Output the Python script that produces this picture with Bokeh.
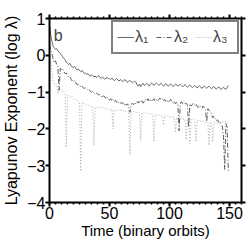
from bokeh.plotting import figure
from bokeh.models import (LinearAxis, SingleIntervalTicker, FixedTicker, Legend,
                          LegendItem, Label, Range1d, CustomJSTickFormatter)
from bokeh.embed import file_html
from bokeh.resources import INLINE

# ---------------- data ----------------
time = list(range(0, 150))

lambda1 = [
    0.85, 0.55, 0.38, 0.25, 0.20, 0.16, 0.18, 0.12, 0.08, 0.05,
    0.00, -0.04, -0.09, -0.12, -0.18, -0.22, -0.25, -0.22, -0.28, -0.32,
    -0.33, -0.30, -0.36, -0.40, -0.37, -0.42, -0.45, -0.41, -0.46, -0.49,
    -0.48, -0.52, -0.50, -0.54, -0.57, -0.53, -0.55, -0.59, -0.56, -0.60,
    -0.58, -0.55, -0.60, -0.63, -0.59, -0.61, -0.65, -0.62, -0.60, -0.64,
    -0.63, -0.66, -0.62, -0.65, -0.69, -0.66, -0.63, -0.67, -0.70, -0.66,
    -0.68, -0.72, -0.68, -0.66, -0.70, -0.74, -0.70, -0.68, -0.72, -0.75,
    -0.72, -0.70, -0.74, -0.80, -0.84, -0.78, -0.85, -0.80, -0.76, -0.82,
    -0.80, -0.76, -0.79, -0.84, -0.79, -0.75, -0.78, -0.82, -0.78, -0.75,
    -0.78, -0.82, -0.79, -0.76, -0.80, -0.84, -0.80, -0.77, -0.81, -0.84,
    -0.80, -0.78, -0.82, -0.85, -0.81, -0.78, -0.80, -0.84, -0.81, -0.79,
    -0.82, -0.86, -0.82, -0.80, -0.83, -0.87, -0.84, -0.81, -0.84, -0.88,
    -0.85, -0.82, -0.86, -0.89, -0.85, -0.83, -0.86, -0.90, -0.86, -0.84,
    -0.87, -0.90, -0.86, -0.84, -0.88, -0.91, -0.87, -0.85, -0.89, -0.92,
    -0.88, -0.86, -0.90, -0.93, -0.89, -0.87, -0.91, -0.92, -0.88, -0.82,
]

lambda2 = [
    0.30, 0.15, 0.05, -0.10, -0.20, -0.15, -0.25, -0.30, -0.95, -0.35,
    -0.40, -0.38, -0.45, -0.50, -0.48, -0.55, -0.60, -0.58, -0.65, -0.70,
    -0.72, -0.68, -0.75, -0.80, -0.78, -0.82, -0.86, -0.83, -0.88, -0.90,
    -0.88, -0.92, -0.95, -0.93, -0.98, -1.00, -0.97, -1.02, -1.05, -1.03,
    -1.05, -1.08, -1.06, -1.10, -1.15, -1.10, -1.12, -1.18, -1.14, -1.20,
    -1.22, -1.18, -1.24, -1.20, -1.26, -1.22, -1.28, -1.25, -1.30, -1.27,
    -1.32, -1.28, -1.35, -1.30, -1.36, -1.32, -1.38, -1.55, -1.35, -1.30,
    -1.34, -1.28, -1.32, -1.26, -1.30, -1.24, -1.28, -1.22, -1.30, -1.26,
    -1.20, -1.25, -1.18, -1.24, -1.20, -1.26, -1.22, -1.18, -1.24, -1.20,
    -1.25, -1.20, -1.16, -1.22, -1.18, -1.24, -1.20, -1.26, -1.22, -1.28,
    -1.24, -1.20, -1.26, -1.30, -1.25, -1.32, -1.28, -1.35, -2.05, -1.30,
    -1.26, -1.32, -1.28, -1.34, -1.30, -1.36, -1.95, -1.32, -1.38, -1.34,
    -1.30, -1.36, -1.32, -1.38, -1.42, -1.36, -1.40, -1.44, -1.38, -1.42,
    -1.48, -1.80, -1.45, -1.50, -1.55, -1.60, -1.70, -1.65, -1.72, -1.78,
    -1.75, -1.82, -1.80, -1.88, -1.92, -2.20, -3.10, -1.85, -1.95, -3.15,
]

lambda3 = [
    0.05, -0.10, -0.45, -0.70, -0.78, -0.82, -0.80, -1.05, -0.88, -0.92,
    -0.95, -1.00, -0.98, -1.05, -2.50, -1.08, -1.10, -1.12, -1.15, -1.12,
    -1.18, -1.20, -1.22, -1.20, -1.25, -1.28, -3.15, -1.30, -1.28, -1.32,
    -1.35, -1.33, -1.36, -1.35, -1.38, -1.37, -1.39, -2.45, -1.40, -1.42,
    -1.40, -1.42, -1.44, -1.41, -1.45, -1.43, -1.46, -1.44, -1.45, -1.47,
    -1.46, -1.48, -1.46, -2.00, -1.48, -1.50, -1.47, -1.49, -1.51, -1.49,
    -1.50, -1.52, -1.50, -1.53, -1.51, -1.54, -1.52, -2.70, -1.53, -1.55,
    -1.53, -1.55, -1.54, -1.56, -1.55, -1.57, -2.30, -1.56, -1.58, -1.57,
    -1.58, -1.57, -1.59, -1.58, -1.60, -1.59, -1.61, -2.35, -1.60, -1.62,
    -1.61, -1.63, -1.62, -1.64, -1.63, -1.90, -1.64, -1.66, -1.65, -1.67,
    -1.66, -1.68, -1.67, -1.69, -1.68, -2.10, -1.69, -1.71, -1.70, -1.72,
    -1.71, -1.73, -1.72, -1.74, -2.30, -1.73, -1.75, -2.40, -1.74, -1.76,
    -1.75, -1.77, -2.35, -1.76, -1.78, -1.77, -1.79, -1.78, -1.80, -1.79,
    -1.81, -1.80, -1.82, -2.45, -1.81, -1.83, -2.35, -1.82, -1.84, -1.83,
    -1.85, -1.84, -1.83, -1.82, -1.81, -1.80, -1.79, -1.80, -1.81, -1.80,
]

x_ticks_interval = 50
y_ticks = [-4, -3, -2, -1, 0, 1]
y_tick_labels = ["\u22124", "\u22123", "\u22122", "\u22121", "0", "1"]
legend_labels = ["\u03bb\u2081", "\u03bb\u2082", "\u03bb\u2083"]
panel_letter = "b"
x_title = "Time (binary orbits)"
y_title = "Lyapunov Exponent (log \u03bb)"

FONT = "Liberation Sans"

p = figure(width=248, height=248,
           x_range=Range1d(0, 160), y_range=Range1d(-4, 1),
           output_backend="svg", toolbar_location=None,
           min_border_left=45, min_border_right=7,
           min_border_top=18, min_border_bottom=46,
           x_axis_label=x_title, y_axis_label=y_title)
p.xgrid.visible = False
p.ygrid.visible = False
p.outline_line_color = None
p.background_fill_color = "white"
p.border_fill_color = "white"

r3 = p.line(time, lambda3, line_color="#a8a8a8", line_width=1, line_dash="1 2")
r2 = p.line(time, lambda2, line_color="#5a5a5a", line_width=1, line_dash="5 2 1 2")
r1 = p.line(time, lambda1, line_color="#6a6a6a", line_width=1)


def style_axis(ax, title_size="15px"):
    ax.axis_line_width = 2
    ax.axis_line_color = "black"
    ax.major_tick_line_width = 2
    ax.major_tick_line_color = "black"
    ax.minor_tick_line_width = 1.5
    ax.minor_tick_line_color = "black"
    ax.major_tick_in = 0
    ax.major_tick_out = 4
    ax.minor_tick_in = 0
    ax.minor_tick_out = 2
    ax.major_label_standoff = 0
    ax.major_label_text_font = FONT
    ax.major_label_text_color = "black"
    ax.major_label_text_font_size = "16px"
    ax.axis_label_text_font = FONT
    ax.axis_label_text_font_size = title_size
    ax.axis_label_text_font_style = "normal"
    ax.axis_label_text_color = "black"
    ax.axis_label_standoff = 0


x_ticker = SingleIntervalTicker(interval=x_ticks_interval, num_minor_ticks=10)
y_ticker = FixedTicker(ticks=y_ticks, minor_ticks=[])
y_overrides = {t: lab for t, lab in zip(y_ticks, y_tick_labels)}

p.xaxis.ticker = x_ticker
p.yaxis.ticker = y_ticker
p.yaxis.major_label_overrides = y_overrides
for ax in p.xaxis:
    style_axis(ax, "15px")
for ax in p.yaxis:
    style_axis(ax, "16px")
    ax.axis_label_standoff = 4

blank = CustomJSTickFormatter(code="return ''")
top = LinearAxis(ticker=SingleIntervalTicker(interval=x_ticks_interval, num_minor_ticks=10),
                 formatter=blank)
style_axis(top)
p.add_layout(top, "above")
right = LinearAxis(ticker=FixedTicker(ticks=y_ticks, minor_ticks=[]), formatter=blank)
style_axis(right)
p.add_layout(right, "right")

legend = Legend(items=[LegendItem(label=legend_labels[0], renderers=[r1]),
                       LegendItem(label=legend_labels[1], renderers=[r2]),
                       LegendItem(label=legend_labels[2], renderers=[r3])],
                orientation="horizontal", location="top_right",
                border_line_color="black", border_line_width=2,
                background_fill_color="white", background_fill_alpha=1,
                label_text_font=FONT, label_text_font_size="16px",
                glyph_width=17, glyph_height=22, label_height=22,
                label_standoff=1, spacing=1, padding=4, margin=2)
p.add_layout(legend)

p.add_layout(Label(x=3.5, y=0.55, text=panel_letter, text_font=FONT,
                   text_font_size="16px", text_baseline="alphabetic"))

open("out.html", "w").write(file_html(p, INLINE))
